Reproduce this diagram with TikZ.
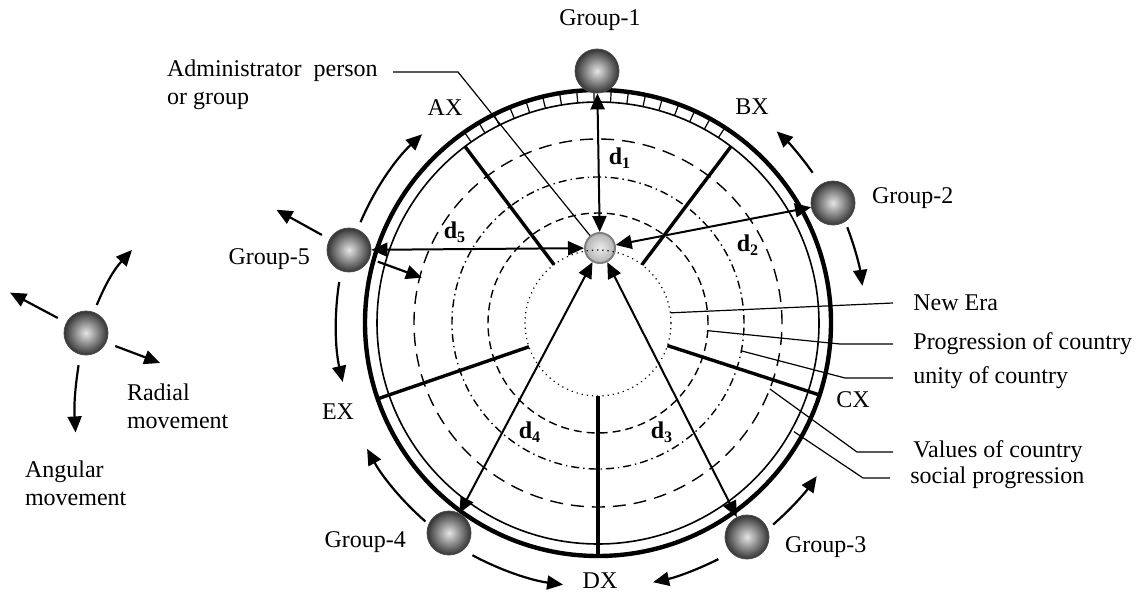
\documentclass[tikz,border=0pt]{standalone}
\usepackage{fontspec}
\setmainfont{Liberation Serif}
\usepackage{tikz}
\usetikzlibrary{arrows.meta, positioning, calc}

\begin{document}
\begin{tikzpicture}[x=0.5pt, y=0.5pt, font=\fontsize{12}{14}\selectfont,
  >={Triangle[length=8pt,width=7pt]},
  sphere/.style={circle, minimum size=22pt, inner sep=0pt, inner color=gray!20, outer color=black!80, draw=black!70, line width=0.4pt},
  hub/.style={circle, minimum size=15pt, inner sep=0pt, inner color=gray!15, outer color=gray!60, draw=gray, line width=1pt},
  spoke/.style={line width=1.7pt},
  darrow/.style={<->, line width=1pt},
  mv/.style={->, line width=1.1pt},
  lead/.style={line width=0.6pt},
  tag/.style={anchor=west, inner xsep=10pt, inner ysep=1pt}]
  \useasboundingbox (0,0) rectangle (1136,-594);
  \coordinate (C) at (598,-323);

  % Rings
  \draw[line width=2.2pt] (C) circle (233);
  \draw[line width=0.8pt] (C) circle (221);
  \draw[line width=0.7pt, dash pattern=on 6.5pt off 4pt] (C) circle (184);
  \draw[line width=0.7pt, dash pattern=on 4pt off 2pt on 0.7pt off 2pt] (C) circle (146);
  \draw[line width=0.7pt, dash pattern=on 4pt off 2.5pt] (C) circle (110);

  % Ticks between the rings
  \foreach \a in {57,61.25,...,125}
    \draw[line width=0.6pt] ($(C)+(\a:221)$) -- ($(C)+(\a:233)$);

  % Spokes
  \foreach \a/\r in {127/221, 53/221, 342/233, 270/233, 199/233}
    \draw[spoke] ($(C)+(\a:73)$) -- ($(C)+(\a:\r)$);

  \node (ax) at (445,-108) {AX};
  \node (bx) at (752,-107) {BX};
  \node (cx) at (853,-400) {CX};
  \node (dx) at (600,-581) {DX};
  \node (ex) at (338,-412) {EX};

  % Administrator and groups
  \node[hub] (c) at (600,-248) {};
  \draw[line width=0.6pt, dotted] (C) circle (73);
  \node[sphere] (g1) at (597,-71) {};
  \node[sphere] (g2) at (833,-203) {};
  \node[sphere] (g3) at (747,-537) {};
  \node[sphere] (g4) at (449,-533) {};
  \node[sphere] (g5) at (349,-250) {};

  \node (l1) at (600,-20) {Group-1};
  \node[right] (l2) at (865,-198) {Group-2};
  \node[right] (l3) at (778,-547) {Group-3};
  \node[left] (l4) at (413,-542) {Group-4};
  \node[left] (l5) at (317,-259) {Group-5};

  % Distances
  \draw[darrow] (c) -- (g1);
  \draw[darrow] (c) -- (g2);
  \draw[darrow] (c) -- (g3);
  \draw[darrow] (c) -- (g4);
  \draw[darrow] (c) -- (g5);
  \node (d1) at (620,-158) {\textbf{d\textsubscript{1}}};
  \node (d2) at (748,-245) {\textbf{d\textsubscript{2}}};
  \node (d3) at (662,-432) {\textbf{d\textsubscript{3}}};
  \node (d4) at (530,-432) {\textbf{d\textsubscript{4}}};
  \node (d5) at (455,-232) {\textbf{d\textsubscript{5}}};

  % Movements round the rings
  \foreach \s/\e/\r in {157/133/258, 35/47/262, 21/8/267, -49/-35/267, -63/-78/265, 241.6/262.4/264, 229/208.6/263, 171/193/262}
    \draw[mv] ($(C)+(\s:\r)$) arc[start angle=\s, end angle=\e, radius=\r];
  \draw[mv] ($(g5)+(-22:31)$) -- ++(-20:47);
  \draw[mv] ($(g5)+(151:31)$) -- ++(151:52);

  % Legend
  \node[sphere] (L) at (86,-333) {};
  \draw[mv] ($(L)+(69:30)$) to[bend left=10] ($(L)+(61:95)$);
  \draw[mv] ($(L)+(152:32)$) -- ($(L)+(152:86)$);
  \draw[mv] ($(L)+(-24:32)$) -- ($(L)+(-22:80)$);
  \draw[mv] ($(L)+(-103:33)$) to[bend right=6] ($(L)+(-96:100)$);
  \node[anchor=west, align=left] (rad) at (120,-406) {Radial\\movement};
  \node[anchor=west, align=left] (ang) at (18,-483) {Angular\\movement};

  % Ring names
  \node[tag] (ne) at (893,-303) {New Era};
  \node[tag] (pc) at (893,-344) {Progression of country};
  \node[tag] (uc) at (893,-378) {unity of country};
  \node[tag] (vc) at (893,-452) {Values of country};
  \node[tag] (sp) at (890,-478) {social progression};
  \draw[lead] ($(C)+(8:73)$) -- (ne.west);
  \draw[lead] ($(C)+(-4:110)$) -- (840,-344) -- (pc.west);
  \draw[lead] ($(C)+(-11:146)$) -- (845,-378) -- (uc.west);
  \draw[lead] ($(C)+(-21:184)$) -- (857,-452) -- (vc.west);
  \draw[lead] ($(C)+(-29:224)$) -- (863,-478) -- (sp.west);

  \node[anchor=west, align=left] (adm) at (160,-85) {Administrator\ \ person\\or group};
  \coordinate (admL) at (393,-72);
  \draw[lead] (admL) -- (458,-72) -- (c);
\end{tikzpicture}
\end{document}
